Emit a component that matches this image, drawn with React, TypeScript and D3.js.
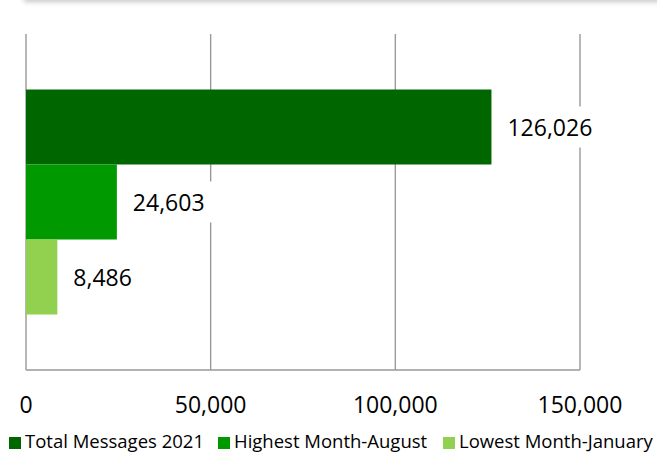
import React from "react";
import * as d3 from "d3";

const categories = ["2021"];
const seriesNames = ["Total Messages 2021", "Highest Month-August", "Lowest Month-January"];
const seriesValues = [126026, 24603, 8486];
const seriesColors = ["#006600", "#009900", "#92d050"];
const tickValues = [0, 50000, 100000, 150000];

const W = 657;
const H = 452;
const FONT = "'Open Sans', 'Liberation Sans', sans-serif";

export default function App() {
  const x = d3.scaleLinear().domain([0, 150000]).range([26, 580]);
  const yCat = d3.scaleBand<string>().domain(categories).range([34, 370]).paddingInner(0).paddingOuter(0.2467);
  const ySer = d3.scaleBand<string>().domain(seriesNames).range([0, yCat.bandwidth()]).padding(0);
  const fmt = d3.format(",");
  const grid = "#999999";
  const legendX = [9, 218, 443];

  return (
    <svg width={W} height={H} style={{ position: "absolute", left: 0, top: 0, display: "block" }} fontFamily={FONT}>
      <defs>
        <filter id="sh" x="-5%" y="-100%" width="110%" height="300%">
          <feGaussianBlur stdDeviation="2.5" />
        </filter>
      </defs>
      <rect x={0} y={0} width={W} height={H} fill="#ffffff" />
      <rect x={24} y={-20} width={W + 20} height={22} fill="#c8c8c8" filter="url(#sh)" />
      <rect x={0} y={-30} width={W + 40} height={30} fill="#ffffff" />
      {/* gridlines */}
      {tickValues.map((t) => (
        <line key={t} x1={x(t)} x2={x(t)} y1={34} y2={370} stroke={grid} strokeWidth={1.4} />
      ))}
      <line x1={x(0)} x2={x(150000)} y1={370} y2={370} stroke={grid} strokeWidth={1.4} />
      {/* bars */}
      {categories.map((c) =>
        seriesNames.map((s, i) => (
          <rect
            key={s}
            x={x(0)}
            y={(yCat(c) as number) + (ySer(s) as number)}
            width={x(seriesValues[i]) - x(0)}
            height={ySer.bandwidth()}
            fill={seriesColors[i]}
          />
        ))
      )}
      {/* data labels */}
      {categories.map((c) =>
        seriesNames.map((s, i) => {
          const cy = (yCat(c) as number) + (ySer(s) as number) + ySer.bandwidth() / 2;
          const tx = x(seriesValues[i]) + 16;
          const label = fmt(seriesValues[i]);
          const tw = label.length * 12.6;
          return (
            <g key={s}>
              <rect x={tx - 8} y={cy - 20.5} width={tw + 16} height={41} fill="#ffffff" />
              <text x={tx} y={cy + 9} fontSize={23} fill="#000000">
                {label}
              </text>
            </g>
          );
        })
      )}
      {/* axis tick labels */}
      {tickValues.map((t) => (
        <text key={t} x={x(t)} y={413} textAnchor="middle" fontSize={23} fill="#000000">
          {fmt(t)}
        </text>
      ))}
      {/* legend */}
      {seriesNames.map((s, i) => (
        <g key={s}>
          <rect x={legendX[i]} y={437} width={12} height={12} fill={seriesColors[i]} />
          <text x={legendX[i] + 16} y={447.5} fontSize={18.5} fill="#000000">
            {s}
          </text>
        </g>
      ))}
    </svg>
  );
}
